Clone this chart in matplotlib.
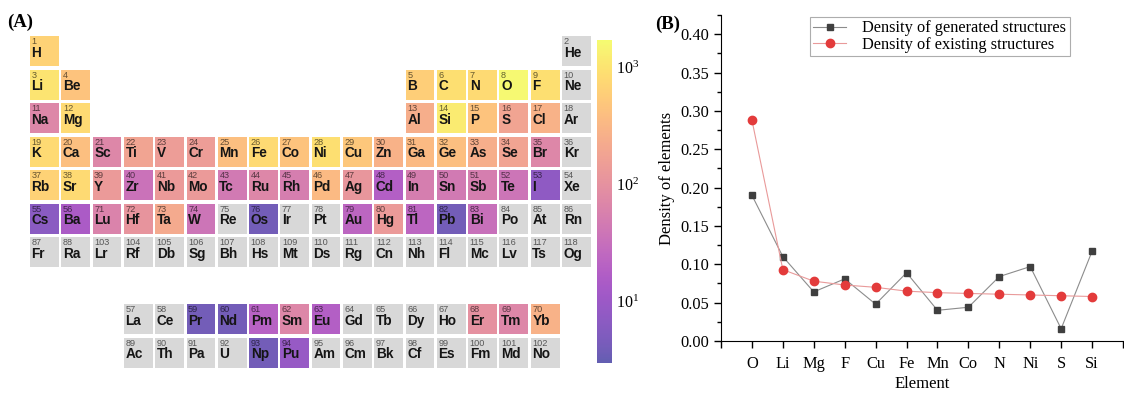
import numpy as np
import matplotlib
matplotlib.use("Agg")
import matplotlib.pyplot as plt
from matplotlib.colors import LogNorm, ListedColormap
from matplotlib.patches import Rectangle
from matplotlib.cm import ScalarMappable
from matplotlib.ticker import MultipleLocator, NullLocator, FormatStrFormatter

plt.rcParams['font.family'] = 'Liberation Serif'
plt.rcParams['mathtext.fontset'] = 'stix'

# ---- data: panel A (element counts, log colour scale) ----
symbols = ("H He Li Be B C N O F Ne Na Mg Al Si P S Cl Ar K Ca Sc Ti V Cr Mn Fe Co Ni Cu Zn "
           "Ga Ge As Se Br Kr Rb Sr Y Zr Nb Mo Tc Ru Rh Pd Ag Cd In Sn Sb Te I Xe Cs Ba La Ce "
           "Pr Nd Pm Sm Eu Gd Tb Dy Ho Er Tm Yb Lu Hf Ta W Re Os Ir Pt Au Hg Tl Pb Bi Po At Rn "
           "Fr Ra Ac Th Pa U Np Pu Am Cm Bk Cf Es Fm Md No Lr Rf Db Sg Bh Hs Mt Ds Rg Cn Nh Fl "
           "Mc Lv Ts Og").split()

present = ["H", "Li", "Be", "B", "C", "N", "O", "F",
           "Na", "Mg", "Al", "Si", "P", "S", "Cl",
           "K", "Ca", "Sc", "Ti", "V", "Cr", "Mn", "Fe", "Co", "Ni", "Cu", "Zn", "Ga", "Ge", "As", "Se", "Br",
           "Rb", "Sr", "Y", "Zr", "Nb", "Mo", "Tc", "Ru", "Rh", "Pd", "Ag", "Cd", "In", "Sn", "Sb", "Te", "I",
           "Cs", "Ba", "Lu", "Hf", "Ta", "W", "Os", "Au", "Hg", "Tl", "Pb", "Bi",
           "Pr", "Nd", "Pm", "Sm", "Eu", "Er", "Tm", "Yb", "Np", "Pu"]
counts = [650, 1000, 450, 600, 900, 800, 1600, 900,
          70, 800, 250, 1200, 450, 180, 280,
          800, 400, 70, 180, 150, 150, 400, 800, 450, 900, 500, 280, 350, 400, 250, 180, 70,
          650, 800, 130, 35, 130, 130, 45, 70, 52, 350, 115, 18, 52, 45, 52, 38, 7.5,
          6.5, 15, 62, 110, 220, 38, 4, 23, 130, 23, 4, 33,
          4, 4, 20, 70, 18, 98, 70, 280, 4, 9]

# ---- data: panel B ----
elements = ["O", "Li", "Mg", "F", "Cu", "Fe", "Mn", "Co", "N", "Ni", "S", "Si"]
density_generated = [0.190, 0.110, 0.064, 0.081, 0.048, 0.089, 0.040, 0.044, 0.084, 0.097, 0.016, 0.117]
density_existing = [0.288, 0.093, 0.078, 0.073, 0.070, 0.065, 0.063, 0.062, 0.061, 0.060, 0.059, 0.058]


def grid_pos(z):
    # (row, col) of element z in the 18-column table, f-block two rows below
    if 57 <= z <= 70:
        return 8, z - 57 + 3
    if 89 <= z <= 102:
        return 9, z - 89 + 3
    if z == 1:
        return 0, 0
    if z == 2:
        return 0, 17
    if z <= 18:
        start = 3 if z <= 10 else 11
        row = 1 if z <= 10 else 2
        k = z - start
        return row, (k if k < 2 else k + 10)
    if z <= 54:
        row = 3 if z <= 36 else 4
        return row, z - (19 if row == 3 else 37)
    row = 5 if z <= 86 else 6
    base = 55 if row == 5 else 87
    if z < base + 2:
        return row, z - base
    return row, z - (71 if row == 5 else 103) + 2


W, H = 1124, 398
fig = plt.figure(figsize=(W / 100, H / 100), dpi=100)

base = plt.get_cmap('plasma')(np.linspace(0, 1, 256))
base[:, :3] = base[:, :3] * 0.65 + 0.35
cmap = ListedColormap(base)
norm = LogNorm(vmin=3, vmax=1700)
lookup = dict(zip(present, counts))

ax = fig.add_axes([30 / W, 1 - 371 / H, 18 * 31.3 / W, 335 / H])
ax.set_xlim(0, 18)
ax.set_ylim(10, 0)
ax.axis('off')
for z, sym in enumerate(symbols, 1):
    r, c = grid_pos(z)
    v = lookup.get(sym)
    fc = cmap(norm(v)) if v else '#d8d8d8'
    ax.add_patch(Rectangle((c, r), 0.92, 0.9, facecolor=fc, edgecolor='none'))
    ax.text(c + 0.05, r + 0.24, str(z), fontsize=6.6, family='Liberation Sans',
            color='black', alpha=0.6, va='baseline', ha='left')
    ax.text(c + 0.05, r + 0.62, sym, fontsize=9.8, family='Liberation Sans', weight='bold',
            color='#151515', va='baseline', ha='left')

cax = fig.add_axes([597 / W, 1 - 363 / H, 15 / W, 323 / H])
cb = fig.colorbar(ScalarMappable(norm=norm, cmap=cmap), cax=cax)
cb.outline.set_visible(False)
cax.yaxis.set_minor_locator(NullLocator())
cax.tick_params(length=0, labelsize=11.5, pad=3)

fig.text(7 / W, 1 - 27 / H, '(A)', fontsize=13.5, weight='bold', ha='left', va='baseline')
fig.text(655 / W, 1 - 29 / H, '(B)', fontsize=13.5, weight='bold', ha='left', va='baseline')

# ---- panel B ----
axb = fig.add_axes([721 / W, 1 - 341 / H, 402 / W, 326 / H])
x = np.arange(len(elements))
axb.plot(x, density_generated, color='#8c8c8c', lw=0.8, marker='s', ms=5,
         mfc='#3f3f3f', mec='#3f3f3f', label='Density of generated structures')
axb.plot(x, density_existing, color='#e99a9a', lw=0.8, marker='o', ms=6,
         mfc='#e33b3b', mec='#e33b3b', label='Density of existing structures')
axb.set_xlim(-1, 12)
axb.set_ylim(0, 0.425)
axb.spines['top'].set_visible(False)
axb.spines['right'].set_visible(False)
axb.set_xticks(x)
axb.set_xticklabels(elements)
axb.set_xticks([-1, 12], minor=True)
axb.yaxis.set_major_locator(MultipleLocator(0.05))
axb.yaxis.set_minor_locator(MultipleLocator(0.025))
axb.yaxis.set_major_formatter(FormatStrFormatter('%.2f'))
axb.tick_params(which='major', direction='out', length=5, width=1, labelsize=11.8)
axb.tick_params(which='minor', direction='out', length=3, width=1)
axb.tick_params(axis='x', which='minor', length=5)
axb.tick_params(axis='x', pad=6)
axb.set_xlabel('Element', fontsize=12, labelpad=3)
axb.set_ylabel('Density of elements', fontsize=12, labelpad=4)
leg = axb.legend(loc='upper left', bbox_to_anchor=(810 / W, 1 - 17 / H),
                 bbox_transform=fig.transFigure, fontsize=11.8, frameon=True,
                 fancybox=False, edgecolor='#999999', borderaxespad=0, borderpad=0.2,
                 labelspacing=0.05, handlelength=2.0, handletextpad=1.0)
leg.get_frame().set_linewidth(0.8)

fig.savefig('out.png', dpi=100)
